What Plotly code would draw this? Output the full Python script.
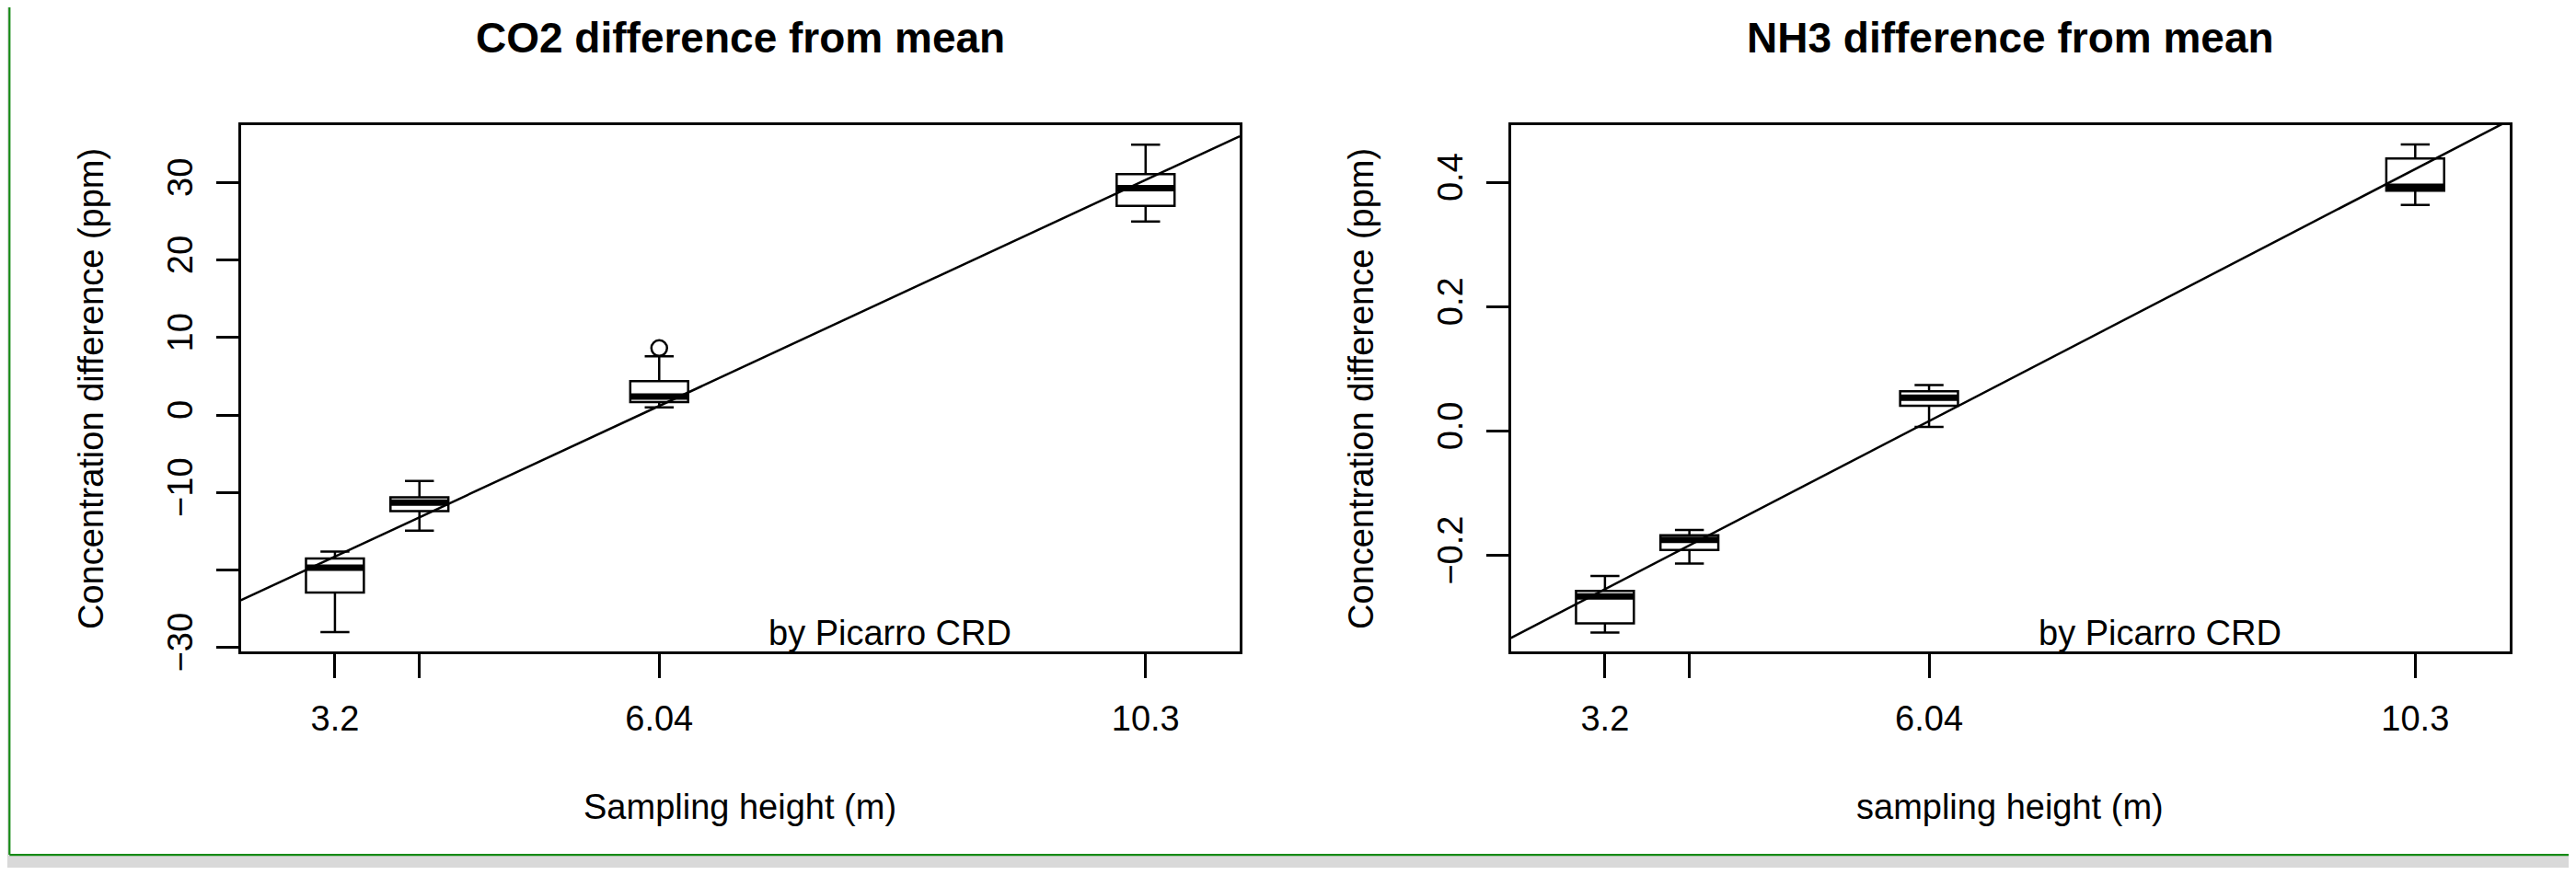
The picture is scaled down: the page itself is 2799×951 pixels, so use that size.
import plotly.graph_objects as go

# ---------------- data ----------------
heights = [3.2, 3.94, 6.04, 10.3]
x_ticktext = ["3.2", "", "6.04", "10.3"]

co2_lowerfence = [-28.0, -14.9, 1.0, 25.0]
co2_q1 = [-22.9, -12.4, 1.7, 27.0]
co2_median = [-19.7, -11.3, 2.4, 29.3]
co2_q3 = [-18.5, -10.6, 4.4, 31.1]
co2_upperfence = [-17.6, -8.5, 7.6, 34.9]
co2_outlier_x = [6.04]
co2_outlier_y = [8.65]
co2_fit_x = [2.376, 11.124]
co2_fit_y = [-23.9, 36.0]
co2_yticks = [-30, -20, -10, 0, 10, 20, 30]
co2_yticktext = ["\u221230", "", "\u221210", "0", "10", "20", "30"]

nh3_lowerfence = [-0.324, -0.213, 0.007, 0.364]
nh3_q1 = [-0.309, -0.191, 0.041, 0.387]
nh3_median = [-0.266, -0.175, 0.054, 0.393]
nh3_q3 = [-0.257, -0.1675, 0.064, 0.4385]
nh3_upperfence = [-0.233, -0.159, 0.074, 0.461]
nh3_fit_x = [2.376, 11.124]
nh3_fit_y = [-0.3325, 0.500]
nh3_yticks = [-0.2, 0.0, 0.2, 0.4]
nh3_yticktext = ["\u22120.2", "0.0", "0.2", "0.4"]

x_range = [2.376, 11.124]
co2_range = [-30.45, 37.45]
nh3_range = [-0.3537, 0.4925]
box_width = 0.507

# ---------------- layout helpers (target pixels -> paper) ----------------
W = 2799
OFF = 8                      # default body margin of the html page
SY = 974 / 951               # vertical factor observed between page and photo
FW = W - 2 * OFF
FH = 958


def PX(x):
    return (x - OFF) / FW


def PY(y):
    return 1 - (y * SY - OFF) / FH


FONT = "Liberation Sans, Arial, Helvetica, sans-serif"
BLACK = "#000000"

fig = go.Figure()


def add_panel(xa, ya, lf, q1, med, q3, uf, fit_x, fit_y):
    fig.add_trace(go.Box(
        x=heights, q1=q1, median=med, q3=q3, lowerfence=lf, upperfence=uf,
        width=box_width, whiskerwidth=0.5, boxpoints=False,
        fillcolor="white", line=dict(color=BLACK, width=2.5),
        showlegend=False, xaxis=xa, yaxis=ya, hoverinfo="y"))
    # thick median bars (R draws medians with lwd = 3)
    mx, my = [], []
    for h, m in zip(heights, med):
        mx += [h - box_width / 2, h + box_width / 2, None]
        my += [m, m, None]
    fig.add_trace(go.Scatter(x=mx, y=my, mode="lines",
                             line=dict(color=BLACK, width=7),
                             showlegend=False, xaxis=xa, yaxis=ya, hoverinfo="skip"))
    fig.add_trace(go.Scatter(x=fit_x, y=fit_y, mode="lines",
                             line=dict(color=BLACK, width=2.5),
                             showlegend=False, xaxis=xa, yaxis=ya, hoverinfo="skip"))


add_panel("x", "y", co2_lowerfence, co2_q1, co2_median, co2_q3, co2_upperfence,
          co2_fit_x, co2_fit_y)
fig.add_trace(go.Scatter(x=co2_outlier_x, y=co2_outlier_y, mode="markers",
                         marker=dict(symbol="circle-open", size=17, color=BLACK,
                                     line=dict(width=2.5, color=BLACK)),
                         showlegend=False, xaxis="x", yaxis="y"))
add_panel("x2", "y2", nh3_lowerfence, nh3_q1, nh3_median, nh3_q3, nh3_upperfence,
          nh3_fit_x, nh3_fit_y)

ydom = [PY(707.7), PY(135.7)]

axis_common = dict(showline=True, mirror=True, linecolor=BLACK, linewidth=3,
                   ticks="outside", tickwidth=2.5, tickcolor=BLACK,
                   showgrid=False, zeroline=False,
                   tickfont=dict(family=FONT, size=38, color=BLACK))
xaxis_style = dict(range=x_range, tickmode="array", tickvals=heights,
                   ticktext=x_ticktext, ticklen=26, ticklabelstandoff=12,
                   **axis_common)
yaxis_style = dict(tickmode="array", tickangle=-90, ticklen=24,
                   ticklabelstandoff=11, **axis_common)

fig.update_layout(
    width=FW, height=FH, autosize=False,
    margin=dict(l=0, r=0, t=0, b=0, pad=0),
    paper_bgcolor="white", plot_bgcolor="white",
    font=dict(family=FONT, color=BLACK),
    showlegend=False,
    xaxis=dict(domain=[PX(261.7), PX(1347)], anchor="y", **xaxis_style),
    yaxis=dict(domain=ydom, range=co2_range, tickvals=co2_yticks,
               ticktext=co2_yticktext, anchor="x", **yaxis_style),
    xaxis2=dict(domain=[PX(1641.7), PX(2726.5)], anchor="y2", **xaxis_style),
    yaxis2=dict(domain=ydom, range=nh3_range, tickvals=nh3_yticks,
                ticktext=nh3_yticktext, anchor="x2", **yaxis_style),
)

# ---------------- text ----------------
ann = []


def text(x, y, s, size=38, bold=False, angle=0):
    ann.append(dict(x=PX(x), y=PY(y), xref="paper", yref="paper", text=s,
                    showarrow=False, xanchor="center", yanchor="middle",
                    textangle=angle,
                    font=dict(family=FONT, size=size, color=BLACK,
                              weight="bold" if bold else "normal")))


text(804.4, 40.5, "CO2 difference from mean", size=46, bold=True)
text(2184.1, 40.5, "NH3 difference from mean", size=46, bold=True)
text(804.4, 876.7, "Sampling height (m)")
text(2184.1, 876.7, "sampling height (m)")
text(99, 423, "Concentration difference (ppm)", angle=-90)
text(1479, 423, "Concentration difference (ppm)", angle=-90)
text(967, 688, "by Picarro CRD")
text(2347, 688, "by Picarro CRD")
fig.update_layout(annotations=ann)

# ---------------- window frame (grey strips + green border) ----------------
GREY = "#d9d9d9"
GREEN = "#158a15"
shapes = [
    dict(type="rect", xref="paper", yref="paper", x0=0, x1=PX(9.5), y0=0, y1=1,
         fillcolor=GREY, line=dict(width=0), layer="below"),
    dict(type="rect", xref="paper", yref="paper", x0=0, x1=1, y0=0, y1=PY(930),
         fillcolor=GREY, line=dict(width=0), layer="below"),
    dict(type="line", xref="paper", yref="paper", x0=PX(10.3), x1=PX(10.3),
         y0=PY(929.3), y1=1, line=dict(color=GREEN, width=2.2)),
    dict(type="line", xref="paper", yref="paper", x0=PX(10.3), x1=1,
         y0=PY(929.3), y1=PY(929.3), line=dict(color=GREEN, width=2.2)),
]
fig.update_layout(shapes=shapes)

fig.write_html("out.html")
